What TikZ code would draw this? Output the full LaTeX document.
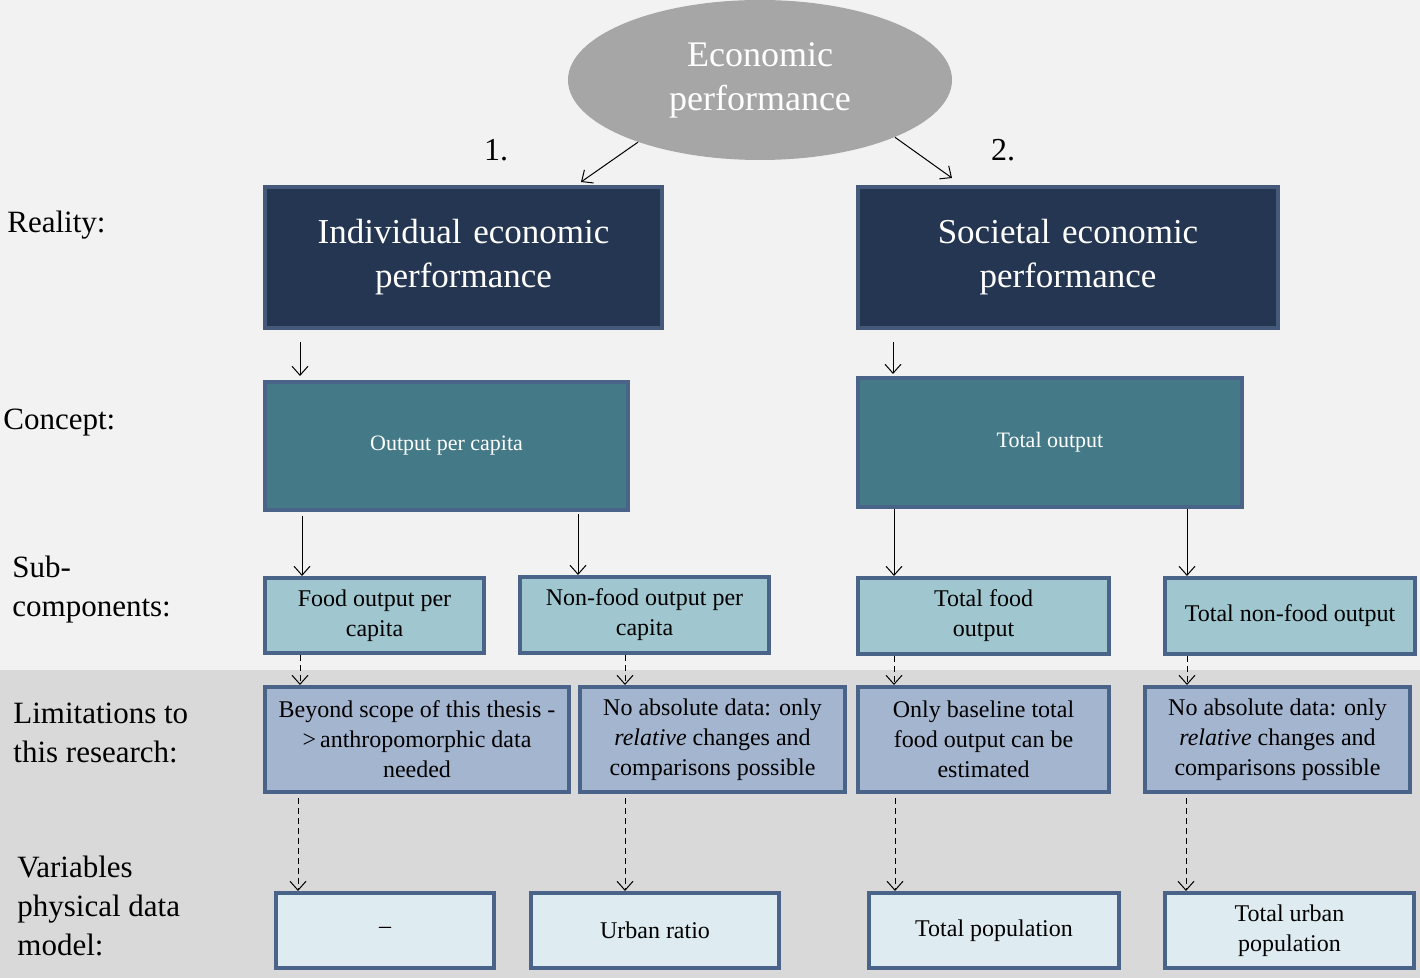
\documentclass[tikz,border=0pt]{standalone}
\usepackage{fontspec}
\setmainfont{Liberation Serif}
\usepackage{tikz}
\usetikzlibrary{shapes.geometric,arrows.meta,positioning}

\definecolor{bglight}{HTML}{F2F2F2}
\definecolor{bgdark}{HTML}{D9D9D9}
\definecolor{ellgray}{HTML}{A6A6A6}
\definecolor{navy}{HTML}{243651}
\definecolor{navyedge}{HTML}{45597A}
\definecolor{teal}{HTML}{447A87}
\definecolor{edge}{HTML}{4A6388}
\definecolor{subfill}{HTML}{A0C6CF}
\definecolor{limfill}{HTML}{A3B5CF}
\definecolor{varfill}{HTML}{DEEBF0}

\begin{document}
\begin{tikzpicture}[x=0.5pt,y=-0.5pt,
      box/.style={draw=edge, line width=2pt, rectangle, align=center, inner sep=2pt},
      realbox/.style={box, draw=navyedge, fill=navy, text=white,
        font=\fontsize{17.5}{22}\selectfont, text width=170pt},
      conceptbox/.style={box, fill=teal, text=white, font=\fontsize{11}{13}\selectfont},
      subbox/.style={box, fill=subfill, font=\fontsize{12}{15}\selectfont},
      limbox/.style={box, fill=limfill, font=\fontsize{12}{15}\selectfont},
      varbox/.style={box, fill=varfill, font=\fontsize{12}{15}\selectfont},
      rowlabel/.style={anchor=west, align=left, inner sep=0pt, font=\fontsize{15.5}{19.5}\selectfont},
      link/.style={-{Straight Barb[length=4.5pt,width=8pt]}, line width=0.5pt},
      dlink/.style={link, dashed, dash pattern=on 3pt off 2pt}
    ]

    % background and the lower band
    \fill[bglight] (0,0) rectangle (1420,978);
    \fill[bgdark] (0,670) rectangle (1420,978);

    % top
    \node[ellipse, fill=ellgray, text=white, minimum width=192pt, minimum height=80pt,
      align=center, font=\fontsize{18}{22}\selectfont] (eco) at (760,80) {Economic\\performance};
    \node[font=\fontsize{16}{18}\selectfont] (one) at (496,150) {1.};
    \node[font=\fontsize{16}{18}\selectfont] (two) at (1003,150) {2.};

    % reality
    \node[realbox, minimum width=198.5pt, minimum height=70.5pt] (ind) at (463.5,257.5) {Individual economic\\performance};
    \node[realbox, minimum width=210pt, minimum height=70.5pt] (soc) at (1068,257.5) {Societal economic\\performance};

    % concept
    \node[conceptbox, minimum width=181.5pt, minimum height=64pt] (opc) at (446.5,446) {Output per capita};
    \node[conceptbox, minimum width=192pt, minimum height=64.5pt] (tot) at (1050,442.5) {Total output};

    % sub-components
    \node[subbox, minimum width=109.5pt, minimum height=37.5pt] (fopc) at (374.5,615.5) {Food output per\\capita};
    \node[subbox, minimum width=124.5pt, minimum height=38pt] (nfopc) at (644.5,615) {Non-food output per\\capita};
    \node[subbox, minimum width=125.5pt, minimum height=38pt] (tfo) at (983.5,616) {Total food\\output};
    \node[subbox, minimum width=125pt, minimum height=38pt] (tnfo) at (1290,616) {Total non-food output};

    % limitations
    \node[limbox, minimum width=152pt, minimum height=52.5pt] (lscope) at (417,739.5) {Beyond scope of this thesis -\\>\,anthropomorphic data\\needed};
    \node[limbox, minimum width=132.5pt, minimum height=52.5pt] (lrel) at (712.5,739.5) {No absolute data: only\\\textit{relative} changes and\\comparisons possible};
    \node[limbox, minimum width=125.5pt, minimum height=52.5pt] (lbase) at (983.5,739.5) {Only baseline total\\food output can be\\estimated};
    \node[limbox, minimum width=132.5pt, minimum height=52.5pt] (lrelb) at (1277.5,739.5) {No absolute data: only\\\textit{relative} changes and\\comparisons possible};

    % variables
    \node[varbox, minimum width=109pt, minimum height=37.5pt] (vnone) at (385,930.5) {–};
    \node[varbox, minimum width=124pt, minimum height=37.5pt] (vurb) at (655,930.5) {Urban ratio};
    \node[varbox, minimum width=125pt, minimum height=37.5pt] (vpop) at (994,930.5) {Total population};
    \node[varbox, minimum width=124.5pt, minimum height=37.5pt] (vupop) at (1289.5,930.5) {Total urban\\population};

    % row labels
    \node[rowlabel] (lreal) at (7,225) {Reality:};
    \node[rowlabel] (lconc) at (3,423) {Concept:};
    \node[rowlabel] (lsub) at (12,590) {Sub-\\components:};
    \node[rowlabel] (llim) at (13,733) {Limitations to\\this research:};
    \node[rowlabel] (lvar) at (17,906) {Variables\\physical data\\model:};

    % arrows
    \draw[link] (eco.207) -- ([xshift=58.75pt, yshift=1.5pt]ind.north);
    \draw[link] (eco.337) -- ([xshift=-58pt, yshift=3.5pt]soc.north);

    \draw[link, shorten <=6pt, shorten >=2pt] ([xshift=18.5pt]ind.south west) -- ([xshift=18.5pt]ind.south west |- opc.north);
    \draw[link, shorten <=6pt, shorten >=1pt] ([xshift=18.5pt]soc.south west) -- ([xshift=18.5pt]soc.south west |- tot.north);

    \draw[link, shorten <=2pt] (opc.south -| fopc.west) ++(19.5pt,0) -- ([xshift=19.5pt]fopc.north west);
    \draw[link, shorten <=1pt] (opc.south -| nfopc.west) ++(30pt,0) -- ([xshift=30pt]nfopc.north west);
    \draw[link] (tot.south -| tfo.west) ++(19pt,0) -- ([xshift=19pt]tfo.north west);
    \draw[link] (tot.south -| tnfo.west) ++(12pt,0) -- ([xshift=12pt]tnfo.north west);

    \draw[dlink] ([xshift=18.5pt]fopc.south west) -- ([xshift=18.5pt]lscope.north west);
    \draw[dlink] ([xshift=23.5pt]lrel.north west |- nfopc.south) -- ([xshift=23.5pt]lrel.north west);
    \draw[dlink] ([xshift=19pt]tfo.south west) -- ([xshift=19pt]lbase.north west);
    \draw[dlink] ([xshift=12pt]tnfo.south west) -- ([xshift=12pt]tnfo.south west |- lrelb.north);

    \draw[dlink, shorten <=2pt] ([xshift=12pt]vnone.north west |- lscope.south) -- ([xshift=12pt]vnone.north west);
    \draw[dlink, shorten <=2pt] ([xshift=23.5pt]lrel.south west) -- ([xshift=23.5pt]lrel.south west |- vurb.north);
    \draw[dlink, shorten <=2pt] ([xshift=14pt]vpop.north west |- lbase.south) -- ([xshift=14pt]vpop.north west);
    \draw[dlink, shorten <=2pt] ([xshift=11.5pt]vupop.north west |- lrelb.south) -- ([xshift=11.5pt]vupop.north west);
\end{tikzpicture}
\end{document}
